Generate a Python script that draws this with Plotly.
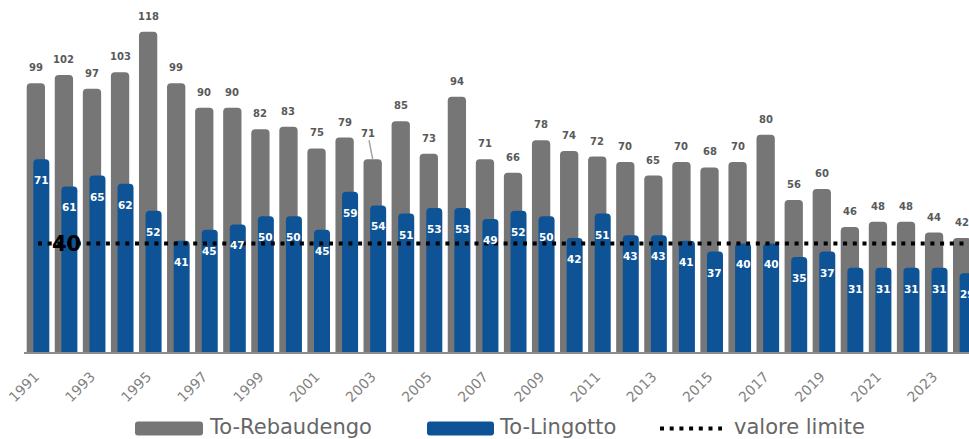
import plotly.graph_objects as go

# --- data -------------------------------------------------------------
years = [1991, 1992, 1993, 1994, 1995, 1996, 1997, 1998, 1999, 2000,
         2001, 2002, 2003, 2004, 2005, 2006, 2007, 2008, 2009, 2010,
         2011, 2012, 2013, 2014, 2015, 2016, 2017, 2018, 2019, 2020,
         2021, 2022, 2023, 2024]
rebaudengo = [99, 102, 97, 103, 118, 99, 90, 90, 82, 83,
              75, 79, 71, 85, 73, 94, 71, 66, 78, 74,
              72, 70, 65, 70, 68, 70, 80, 56, 60, 46,
              48, 48, 44, 42]
lingotto = [71, 61, 65, 62, 52, 41, 45, 47, 50, 50,
            45, 59, 54, 51, 53, 53, 49, 52, 50, 42,
            51, 43, 43, 41, 37, 40, 40, 35, 37, 31,
            31, 31, 31, 29]
limit_value = 40
tick_years = years[::2]
series_names = ["To-Rebaudengo", "To-Lingotto", "valore limite"]

# --- style ------------------------------------------------------------
GRAY = "#767676"
BLUE = "#0E5396"
LABEL_GRAY = "#595959"
TICK_GRAY = "#7F7F7F"
FONT = "DejaVu Sans"
DOTS = "4px,5.7px"

W, H = 969, 439
ML, MR, MT, MB = 24, 0, 0, 87
plot_w = W - ML - MR
plot_h = H - MT - MB
slot_px = 28.07          # pixels per year
first_center_px = 38     # centre of the first year slot
px_per_unit = 2.715

x_lo = years[0] - (first_center_px - ML) / slot_px
x_hi = x_lo + plot_w / slot_px
y_hi = plot_h / px_per_unit

GRAY_OFF, GRAY_W = -0.403, 0.652
BLUE_OFF, BLUE_W = -0.167, 0.570

fig = go.Figure()
fig.add_trace(go.Bar(
    x=years, y=rebaudengo, name=series_names[0],
    offset=GRAY_OFF, width=GRAY_W,
    marker=dict(color=GRAY, cornerradius=4, line=dict(width=0)),
    showlegend=False, hoverinfo="skip",
))
fig.add_trace(go.Bar(
    x=years, y=lingotto, name=series_names[1],
    offset=BLUE_OFF, width=BLUE_W,
    marker=dict(color=BLUE, cornerradius=4, line=dict(width=0)),
    showlegend=False, hoverinfo="skip",
))
fig.add_trace(go.Scatter(
    x=years, y=[limit_value] * len(years), name=series_names[2],
    mode="lines", line=dict(color="black", width=4, dash=DOTS),
    showlegend=False, hoverinfo="skip",
))

annotations = []
# value labels above the grey bars; 2003 uses a leader line
leaders = {2003: (-5, -26)}
for yr, v in zip(years, rebaudengo):
    a = dict(x=yr + GRAY_OFF + GRAY_W / 2, y=v, xref="x", yref="y",
             text=str(v), font=dict(family=FONT, size=10, color=LABEL_GRAY,
                                    weight="bold"))
    if yr in leaders:
        ax, ay = leaders[yr]
        a.update(showarrow=True, ax=ax, ay=ay, arrowhead=0, arrowwidth=1.5,
                 arrowcolor="#A6A6A6", standoff=0)
    else:
        a.update(showarrow=False, yshift=15.5)
    annotations.append(a)

# value labels inside the blue bars
for yr, v in zip(years, lingotto):
    annotations.append(dict(
        x=yr + BLUE_OFF + BLUE_W / 2, y=v, xref="x", yref="y",
        text=str(v), showarrow=False, yshift=-21,
        font=dict(family=FONT, size=10.5, color="white", weight="bold"),
    ))

# limit value tag on the dotted line
annotations.append(dict(
    x=years[1], y=limit_value, xref="x", yref="y", text=str(limit_value),
    showarrow=False, yshift=-1,
    font=dict(family=FONT, size=21, color="black", weight="bold"),
))


# --- hand-drawn legend below the axis --------------------------------
def px_x(px):
    return (px - ML) / plot_w


def px_y(py):
    return (MT + plot_h - py) / plot_h


def rounded_rect(w, h, r):
    x0, x1, y0, y1 = -w / 2, w / 2, -h / 2, h / 2
    return (f"M{x0 + r},{y0} L{x1 - r},{y0} Q{x1},{y0} {x1},{y0 + r} "
            f"L{x1},{y1 - r} Q{x1},{y1} {x1 - r},{y1} L{x0 + r},{y1} "
            f"Q{x0},{y1} {x0},{y1 - r} L{x0},{y0 + r} Q{x0},{y0} {x0 + r},{y0} Z")


legend_y = 428.5
text_y = 427.5
shapes = []
for cx, w, col in [(169, 68, GRAY), (460.5, 67, BLUE)]:
    shapes.append(dict(
        type="path", xref="paper", yref="paper",
        xsizemode="pixel", ysizemode="pixel",
        xanchor=px_x(cx), yanchor=px_y(legend_y),
        path=rounded_rect(w, 14, 3), fillcolor=col, line=dict(width=0),
    ))
shapes.append(dict(
    type="line", xref="paper", yref="paper",
    x0=px_x(660), x1=px_x(722), y0=px_y(legend_y), y1=px_y(legend_y),
    line=dict(color="black", width=4, dash=DOTS),
))
for left, name in zip([207, 497, 732], series_names):
    annotations.append(dict(
        x=px_x(left), y=px_y(text_y), xref="paper", yref="paper",
        xanchor="left", yanchor="middle", text=name, showarrow=False,
        font=dict(family=FONT, size=21, color="#666666"),
    ))

fig.update_layout(
    width=W, height=H, autosize=False,
    margin=dict(l=ML, r=MR, t=MT, b=MB, pad=0),
    paper_bgcolor="white", plot_bgcolor="white",
    barmode="overlay", hovermode=False,
    annotations=annotations, shapes=shapes,
    xaxis=dict(
        range=[x_lo, x_hi], tickmode="array",
        tickvals=tick_years, ticktext=[str(y) for y in tick_years],
        tickangle=-45, tickfont=dict(family=FONT, size=14, color=TICK_GRAY),
        ticklabelstandoff=9, ticklabelshift=-3,
        showgrid=False, zeroline=False, ticks="",
        showline=True, linecolor="#8C8C8C", linewidth=2,
    ),
    yaxis=dict(range=[0, y_hi], visible=False, fixedrange=True),
)

fig.write_html("out.html")
